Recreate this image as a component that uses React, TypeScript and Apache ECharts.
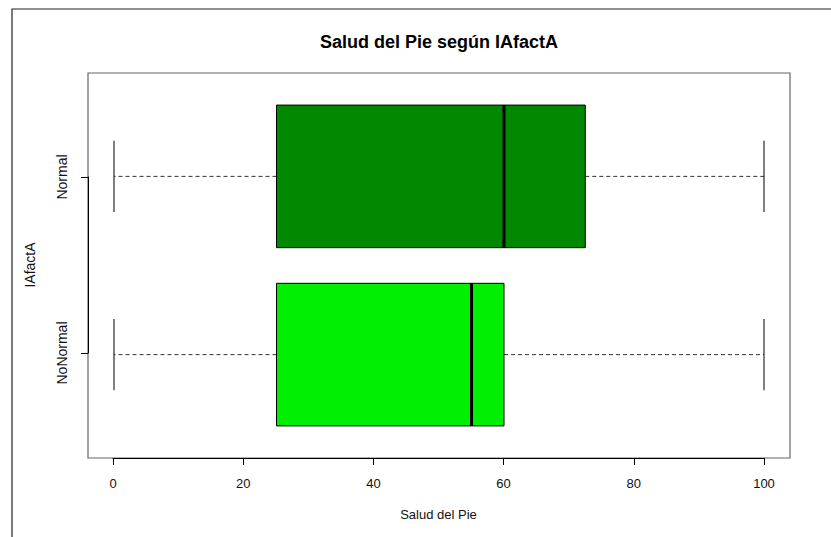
import React, { useEffect, useRef } from "react";
import * as echarts from "echarts";

const categories = ["NoNormal", "Normal"];
const mins = [0, 0];
const q1s = [25, 25];
const medians = [55, 60];
const q3s = [60, 72.5];
const maxs = [100, 100];
const boxColors = ["#00EE00", "#008800"];
const xTicks = [0, 20, 40, 60, 80, 100];

const FONT = "'Liberation Sans', Arial, Helvetica, sans-serif";

export default function App() {
  const ref = useRef<HTMLDivElement>(null);
  useEffect(() => {
    if (!ref.current) return;
    const chart = echarts.init(ref.current, null, { renderer: "svg" });
    const data = categories.map((c, i) => [i + 1, mins[i], q1s[i], medians[i], q3s[i], maxs[i], i]);
    const renderItem = (params: any, api: any) => {
      const pos = api.value(0);
      const mn = api.value(1), q1 = api.value(2), md = api.value(3), q3 = api.value(4), mx = api.value(5);
      const idx = api.value(6);
      const color = boxColors[idx];
      const p = (x: number, y: number) => api.coord([x, y]);
      const a = p(q1, pos + 0.4);
      const b = p(q3, pos - 0.4);
      const dash = { stroke: "#333", lineWidth: 1, lineDash: [4, 3] };
      const solid = { stroke: "#000", lineWidth: 1 };
      const line = (x1: number, y1: number, x2: number, y2: number, style: any) => {
        const s = p(x1, y1), e = p(x2, y2);
        return { type: "line", shape: { x1: s[0], y1: s[1], x2: e[0], y2: e[1] }, style };
      };
      return {
        type: "group",
        children: [
          line(q1, pos, mn, pos, dash),
          line(q3, pos, mx, pos, dash),
          line(mn, pos - 0.2, mn, pos + 0.2, solid),
          line(mx, pos - 0.2, mx, pos + 0.2, solid),
          {
            type: "rect",
            shape: { x: a[0], y: a[1], width: b[0] - a[0], height: b[1] - a[1] },
            style: { fill: color, stroke: "#000", lineWidth: 1 },
          },
          line(md, pos - 0.4, md, pos + 0.4, { stroke: "#000", lineWidth: 3 }),
        ],
      };
    };
    chart.setOption({
      animation: false,
      backgroundColor: "#fff",
      textStyle: { fontFamily: FONT },
      title: {
        text: "Salud del Pie según IAfactA",
        left: 439,
        top: 33,
        padding: 0,
        textAlign: "center",
        textStyle: { fontFamily: FONT, fontSize: 18, fontWeight: "bold", color: "#000" },
      },
      graphic: [
        {
          type: "rect",
          shape: { x: 12, y: 9, width: 900, height: 600 },
          style: { fill: "none", stroke: "#222", lineWidth: 1.2 },
          silent: true,
        },
      ],
      grid: [
        { left: 88, right: 41, top: 73, bottom: 79, show: true, borderColor: "#666", borderWidth: 1.2, backgroundColor: "transparent" },
        { left: 113, right: 67, top: 177, bottom: 184, show: false },
      ],
      xAxis: [
        { gridIndex: 0, type: "value", min: -4, max: 104, show: false },
        {
          gridIndex: 1,
          type: "value",
          min: 0,
          max: 100,
          interval: 20,
          position: "bottom",
          offset: 105,
          axisLine: { show: true, onZero: false, lineStyle: { color: "#000", width: 1 } },
          axisTick: { show: true, length: 7, lineStyle: { color: "#000" } },
          axisLabel: { show: true, margin: 19, fontSize: 13, color: "#111", fontFamily: FONT },
          splitLine: { show: false },
          name: "Salud del Pie",
          nameLocation: "middle",
          nameGap: 50,
          nameTextStyle: { fontSize: 13, color: "#111", fontFamily: FONT },
          data: xTicks,
        },
      ],
      yAxis: [
        { gridIndex: 0, type: "value", min: 0.42, max: 2.58, show: false },
        {
          gridIndex: 1,
          type: "category",
          data: categories,
          boundaryGap: false,
          position: "left",
          offset: 25,
          axisLine: { show: true, onZero: false, lineStyle: { color: "#000", width: 1 } },
          axisTick: { show: true, length: 7, alignWithLabel: true, lineStyle: { color: "#000" } },
          axisLabel: { show: true, rotate: 90, margin: 19, fontSize: 14, color: "#111", fontFamily: FONT },
          splitLine: { show: false },
          name: "IAfactA",
          nameLocation: "middle",
          nameRotate: 90,
          nameGap: 51,
          nameTextStyle: { fontSize: 14, color: "#111", fontFamily: FONT },
        },
      ],
      series: [
        {
          type: "custom",
          xAxisIndex: 0,
          yAxisIndex: 0,
          renderItem,
          data,
          encode: { x: [1, 2, 3, 4, 5], y: 0 },
        },
      ],
    });
    return () => chart.dispose();
  }, []);
  return (
    <div
      ref={ref}
      style={{ position: "fixed", left: 0, top: 0, width: 831, height: 537, background: "#fff" }}
    />
  );
}
